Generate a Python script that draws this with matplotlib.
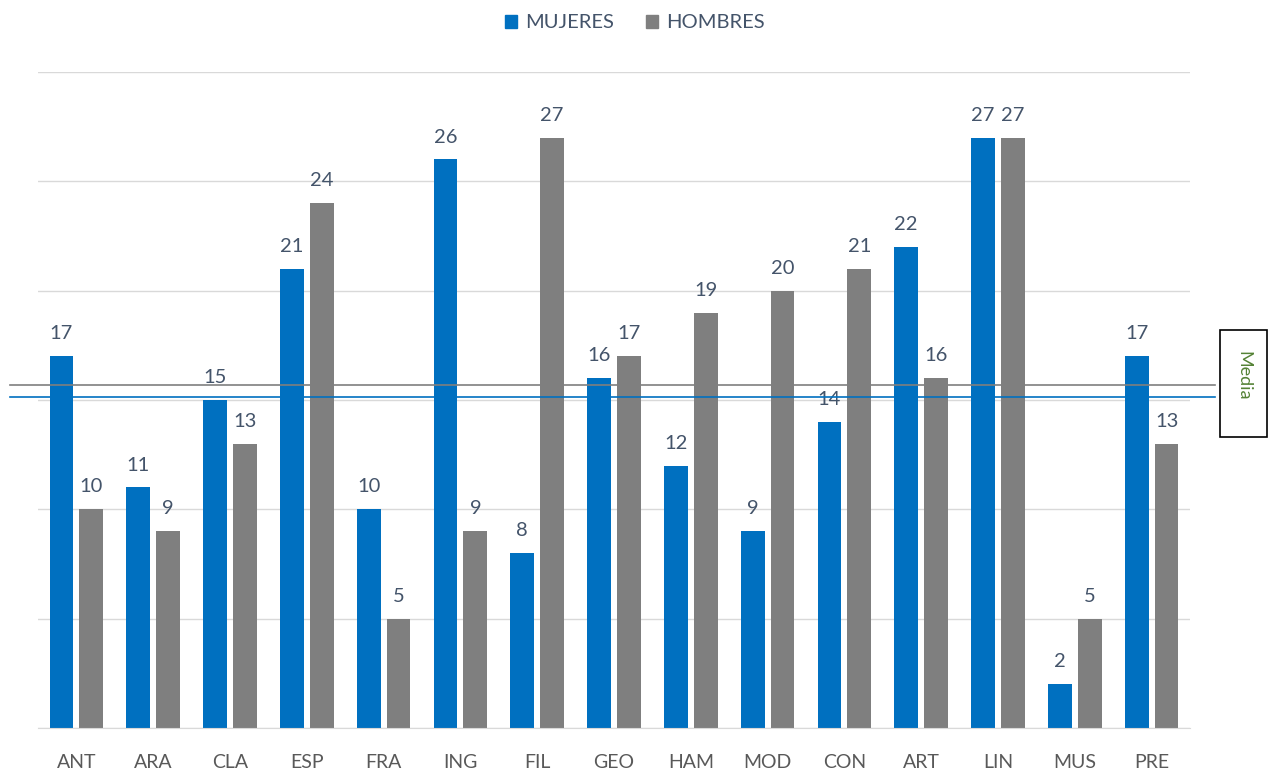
import numpy as np
import matplotlib.pyplot as plt
from matplotlib.patches import Rectangle, Patch

plt.rcParams['font.family'] = ['Lato', 'DejaVu Sans']

categorias = ["ANT", "ARA", "CLA", "ESP", "FRA", "ING", "FIL", "GEO",
              "HAM", "MOD", "CON", "ART", "LIN", "MUS", "PRE"]
mujeres = [17, 11, 15, 21, 10, 26, 8, 16, 12, 9, 14, 22, 27, 2, 17]
hombres = [10, 9, 13, 24, 5, 9, 27, 17, 19, 20, 21, 16, 27, 5, 13]

azul = "#0070C0"
gris = "#7F7F7F"
texto = "#44546A"

fig = plt.figure(figsize=(12.7, 7.73), dpi=100)
ax = fig.add_axes([38/1270, 45/773, 1152/1270, 656/773])

x = np.arange(len(categorias))
w = 0.31
off = 0.195
ax.bar(x - off, mujeres, w, color=azul, zorder=2)
ax.bar(x + off, hombres, w, color=gris, zorder=2)

for xi, v in zip(x, mujeres):
    ax.annotate(str(v), (xi - off, v), xytext=(0, 10), textcoords="offset points",
                ha="center", va="bottom", fontsize=14.5, color=texto)
for xi, v in zip(x, hombres):
    ax.annotate(str(v), (xi + off, v), xytext=(0, 10), textcoords="offset points",
                ha="center", va="bottom", fontsize=14.5, color=texto)

# lineas de media
xl = [-0.865, 14.825]
ax.plot(xl, [np.mean(hombres)] * 2, color=gris, lw=1.2, clip_on=False, zorder=3)
ax.plot(xl, [np.mean(mujeres)] * 2, color=azul, lw=1.2, clip_on=False, zorder=3)

ax.set_xlim(-0.5, len(categorias) - 0.5)
ax.set_ylim(0, 30)
ax.set_yticks(np.arange(0, 31, 5))
ax.set_yticklabels([])
ax.set_xticks(x)
ax.set_xticklabels(categorias, fontsize=14, color="#595959")
ax.tick_params(length=0, pad=19)
ax.grid(axis="y", color="#D9D9D9", lw=1, zorder=0)
for s in ["top", "right", "left"]:
    ax.spines[s].set_visible(False)
ax.spines["bottom"].set_color("#D9D9D9")

handles = [Patch(color=azul, label="MUJERES"), Patch(color=gris, label="HOMBRES")]
fig.legend(handles=handles, loc="upper center", bbox_to_anchor=(0.5, 1.005), ncol=2,
           frameon=False, fontsize=14.5, labelcolor=texto, handlelength=0.6,
           handleheight=0.6, handletextpad=0.4, columnspacing=1.6)

fig.patches.append(Rectangle((1220/1270, (773-437)/773), 47/1270, 107/773,
                             transform=fig.transFigure, fill=False,
                             edgecolor="black", lw=1.2))
fig.text(1243/1270, (773-376)/773, "Media", rotation=-90, ha="center", va="center",
         fontsize=13, color="#548235")

fig.savefig("out.png", dpi=100)
